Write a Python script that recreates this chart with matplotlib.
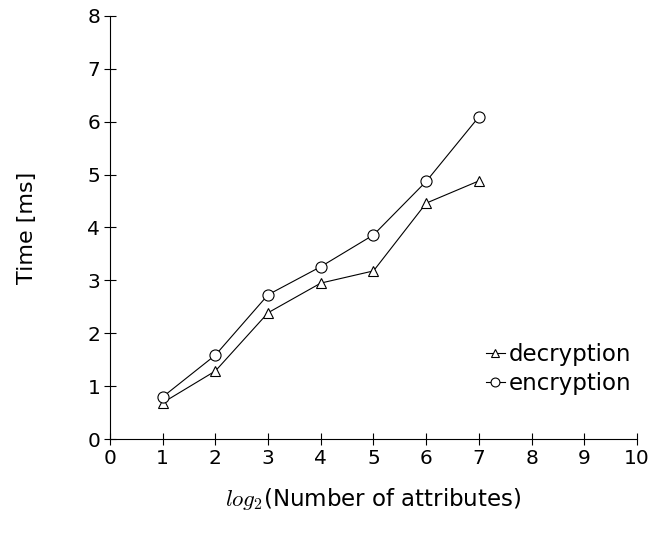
import matplotlib
matplotlib.use("Agg")
import matplotlib.pyplot as plt

x = [1, 2, 3, 4, 5, 6, 7]
decryption = [0.69, 1.29, 2.39, 2.95, 3.18, 4.46, 4.88]
encryption = [0.80, 1.59, 2.73, 3.26, 3.86, 4.87, 6.09]
xticks = list(range(0, 11))
yticks = list(range(0, 9))

plt.rcParams['font.family'] = ['DejaVu Sans']
plt.rcParams['mathtext.fontset'] = 'cm'

fig = plt.figure(figsize=(6.52, 5.38), dpi=100)
ax = fig.add_axes([0.1687, 0.1835, 0.8083, 0.7873])

ax.plot(x, decryption, color='black', lw=0.8, marker='^', markersize=7.5,
        markerfacecolor='white', markeredgecolor='black', markeredgewidth=0.8,
        label='decryption')
ax.plot(x, encryption, color='black', lw=0.8, marker='o', markersize=8,
        markerfacecolor='white', markeredgecolor='black', markeredgewidth=0.8,
        label='encryption')

ax.set_xlim(0, 10)
ax.set_ylim(0, 8)
ax.set_xticks(xticks)
ax.set_yticks(yticks)
ax.spines['top'].set_visible(False)
ax.spines['right'].set_visible(False)
for s in ('left', 'bottom'):
    ax.spines[s].set_linewidth(0.8)
ax.tick_params(direction='inout', length=8, width=0.8, labelsize=14.5, pad=3)

ax.set_xlabel(r'$log_2$(Number of attributes)', fontsize=16.5, labelpad=13)
ax.set_ylabel('Time [ms]', fontsize=16, labelpad=36)

ax.legend(loc='center right', bbox_to_anchor=(0.99, 0.166), frameon=False,
          fontsize=16.5, handlelength=0.8, handletextpad=0.2, labelspacing=0.25,
          markerscale=0.8, borderpad=0, borderaxespad=0)

fig.savefig('out.png', dpi=100)
